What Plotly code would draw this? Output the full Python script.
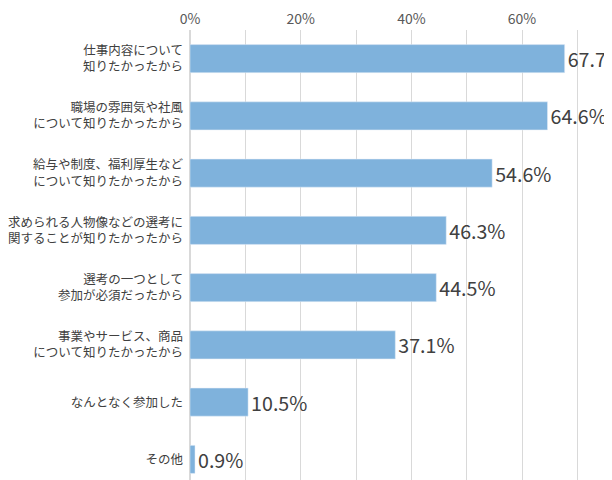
import plotly.graph_objects as go

reasons = [
    "仕事内容について<br>知りたかったから",
    "職場の雰囲気や社風<br>について知りたかったから",
    "給与や制度、福利厚生など<br>について知りたかったから",
    "求められる人物像などの選考に<br>関することが知りたかったから",
    "選考の一つとして<br>参加が必須だったから",
    "事業やサービス、商品<br>について知りたかったから",
    "なんとなく参加した",
    "その他",
]
shares = [67.7, 64.6, 54.6, 46.3, 44.5, 37.1, 10.5, 0.9]
share_text = [f"{v:.1f}%" for v in shares]

fig = go.Figure(go.Bar(
    x=shares, y=reasons, orientation="h",
    marker_color="#7fb2dc", width=0.49,
    text=share_text, textposition="outside", cliponaxis=False,
    textfont=dict(size=21, color="#404040", family="Noto Sans CJK JP"),
))
fig.update_layout(
    width=612, height=480,
    margin=dict(l=151, r=0, t=15, b=0),
    plot_bgcolor="white", paper_bgcolor="white",
    showlegend=False, bargap=0.5,
    font=dict(family="Noto Sans CJK JP", color="#404040"),
)
fig.update_xaxes(range=[0, 77.7], side="top", tickvals=list(range(0, 80, 10)),
                 ticktext=["0%", "", "20%", "", "40%", "", "60%", ""],
                 showgrid=True, gridcolor="#d9d9d9", zeroline=True, zerolinecolor="#d9d9d9",
                 tickfont=dict(size=14, color="#595959"), ticklabelstandoff=2)
fig.update_yaxes(autorange="reversed", tickfont=dict(size=12.5, color="#404040"),
                 ticklabelstandoff=6, ticks="")
fig.write_html("out.html")
